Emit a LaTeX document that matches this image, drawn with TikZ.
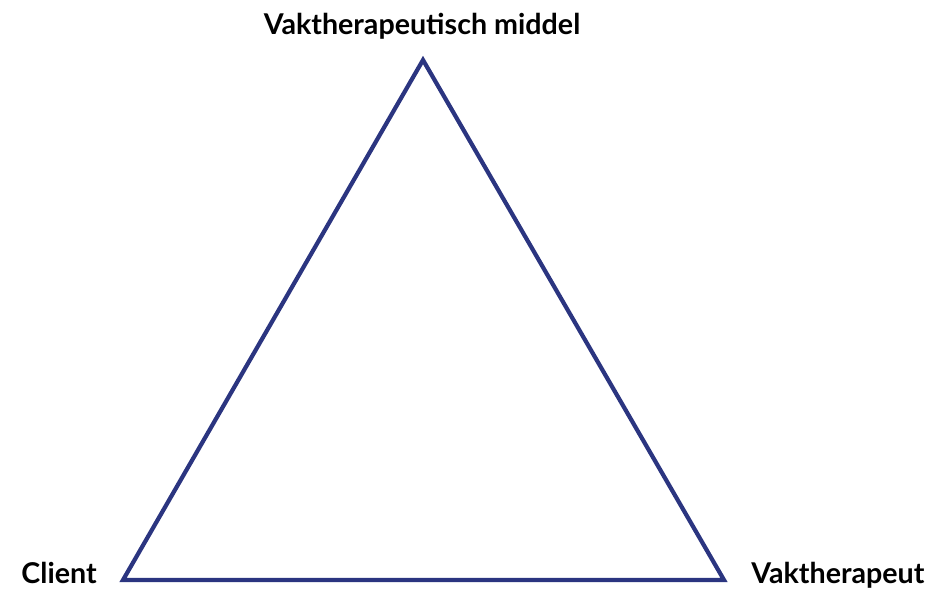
\documentclass[tikz,border=0pt]{standalone}
\usepackage{fontspec}
\setmainfont{Lato}
\definecolor{navy}{HTML}{2B3580}
\begin{document}
\begin{tikzpicture}[x=0.02cm, y=0.02cm,
  side/.style={draw=navy, line width=2.4pt, line join=miter},
  lbl/.style={font=\bfseries\fontsize{16.3}{19}\selectfont, inner sep=0pt}]
  \useasboundingbox (0,0) rectangle (939,589);
  % hoekpunten van de driehoek
  \coordinate (M) at (423, 529);
  \coordinate (C) at (123, 9);
  \coordinate (T) at (724, 9);
  \draw[side] (C) -- (M) -- (T) -- cycle;
  % labels
  \node[lbl, anchor=base] (middel) at (422, 554) {Vaktherapeutisch middel};
  \node[lbl, anchor=base east] (client) at (97, 6) {Client};
  \node[lbl, anchor=base west] (therapeut) at (751, 6) {Vaktherapeut};
\end{tikzpicture}
\end{document}
